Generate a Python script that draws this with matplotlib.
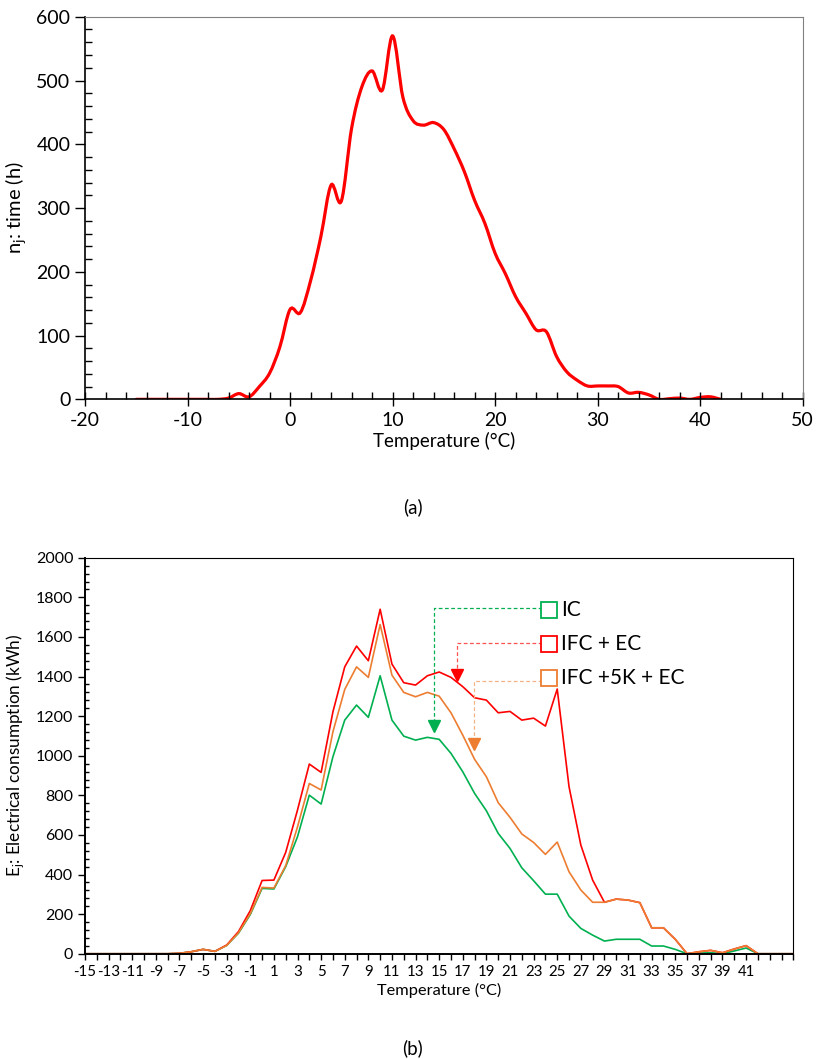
import numpy as np
import matplotlib
matplotlib.use("Agg")
import matplotlib.pyplot as plt
from matplotlib.path import Path
from matplotlib.patches import PathPatch
from matplotlib.ticker import MultipleLocator

plt.rcParams['font.family'] = ['Lato', 'DejaVu Sans']
plt.rcParams['axes.unicode_minus'] = False
plt.rcParams['mathtext.fontset'] = 'custom'
plt.rcParams['mathtext.rm'] = 'Lato'
plt.rcParams['mathtext.it'] = 'Lato:italic'

# (a) hours per temperature bin
temp_a = list(range(-15, 43))
hours = [0, 0, 0, 0, 0, 0, 0, 0, 0, 2, 9, 4, 20, 41, 82,
         141, 136, 186, 255, 336, 311, 425, 490, 515, 485, 570,
         474, 437, 430, 434, 423, 393, 357, 312, 276, 229, 197,
         161, 135, 109, 106, 67, 43, 30, 21, 21, 21, 20, 10, 11,
         7, 0, 1, 2, 0, 3, 4, 0]

# (b) electrical consumption per temperature bin
temp_b = list(range(-15, 46))
ic = [0, 0, 0, 0, 0, 0, 0, 0, 2, 10, 22, 12, 42, 104, 198,
      330, 327, 440, 591, 801, 756, 995, 1180, 1256, 1194, 1404,
      1180, 1099, 1079, 1093, 1083, 1012, 919, 810, 722, 608, 532,
      434, 369, 301, 301, 190, 128, 94, 64, 73, 73, 73, 39, 39,
      22, 0, 3, 5, 0, 14, 29, 0, 0, 0, 0]
ifc_ec = [0, 0, 0, 0, 0, 0, 0, 0, 2, 10, 22, 12, 44, 112, 218,
          370, 372, 512, 726, 958, 916, 1222, 1449, 1554, 1480, 1740,
          1463, 1369, 1357, 1404, 1423, 1396, 1349, 1293, 1281, 1217, 1224,
          1180, 1190, 1150, 1337, 844, 549, 372, 260, 276, 271, 258, 131, 131,
          73, 0, 10, 17, 5, 24, 41, 0, 0, 0, 0]
ifc_5k_ec = [0, 0, 0, 0, 0, 0, 0, 0, 2, 10, 22, 12, 42, 106, 202,
             335, 332, 445, 641, 860, 827, 1121, 1335, 1449, 1396, 1663,
             1407, 1320, 1298, 1320, 1301, 1217, 1104, 982, 894, 763, 689,
             605, 562, 502, 564, 414, 322, 260, 260, 276, 271, 258, 131, 131,
             73, 0, 10, 17, 5, 24, 41, 0, 0, 0, 0]

series_names = ['IC', 'IFC + EC', 'IFC +5K + EC']
GREEN, RED, ORANGE = '#00B050', '#FF0000', '#ED7D31'


def smooth_path(x, y):
    # Excel-style smoothed line: cubic Bezier through every point
    x = np.asarray(x, float)
    y = np.asarray(y, float)
    pts = np.column_stack([x, y])
    verts = [pts[0]]
    codes = [Path.MOVETO]
    n = len(pts)
    for i in range(n - 1):
        p0 = pts[i - 1] if i > 0 else pts[i]
        p1 = pts[i]
        p2 = pts[i + 1]
        p3 = pts[i + 2] if i + 2 < n else pts[i + 1]
        verts += [p1 + (p2 - p0) / 6, p2 - (p3 - p1) / 6, p2]
        codes += [Path.CURVE4] * 3
    return Path(verts, codes)


fig = plt.figure(figsize=(8.16, 10.59), dpi=100)

# ---------- (a) ----------
ax1 = fig.add_axes([0.1042, 0.6229, 0.8795, 0.3613])
ax1.add_patch(PathPatch(smooth_path(temp_a, hours), fill=False,
                        edgecolor=RED, lw=2.3, capstyle='round'))
ax1.set_xlim(-20, 50)
ax1.set_ylim(0, 600)
ax1.xaxis.set_major_locator(MultipleLocator(10))
ax1.xaxis.set_minor_locator(MultipleLocator(2))
ax1.yaxis.set_major_locator(MultipleLocator(100))
ax1.yaxis.set_minor_locator(MultipleLocator(20))
ax1.tick_params(axis='x', which='major', direction='inout', length=10,
                width=1, labelsize=14, pad=4)
ax1.tick_params(axis='x', which='minor', direction='in', length=5, width=1)
ax1.tick_params(axis='y', which='major', direction='out', length=7,
                width=1, labelsize=14)
ax1.tick_params(axis='y', which='minor', direction='in', length=5, width=1)
for side in ['top', 'right']:
    ax1.spines[side].set_color('#808080')
for side in ['left', 'bottom']:
    ax1.spines[side].set_color('black')
    ax1.spines[side].set_linewidth(1.2)
ax1.set_xlabel('Temperature (°C)', fontsize=13.5, labelpad=2)
ax1.set_ylabel(r'$\mathrm{n_j}$: time (h)', fontsize=14.5, labelpad=6)
fig.text(0.506, 0.521, '(a)', ha='center', va='center', fontsize=13.5)

# ---------- (b) ----------
ax2 = fig.add_axes([0.1042, 0.0994, 0.868, 0.3739])
ax2.plot(temp_b, ic, color=GREEN, lw=1.2, label=series_names[0])
ax2.plot(temp_b, ifc_ec, color=RED, lw=1.2, label=series_names[1])
ax2.plot(temp_b, ifc_5k_ec, color=ORANGE, lw=1.2, label=series_names[2])
ax2.set_xlim(-15, 45)
ax2.set_ylim(0, 2000)
ax2.set_xticks(range(-15, 46))
ax2.set_xticklabels([str(t) if (t % 2 != 0 and t <= 41) else ''
                     for t in range(-15, 46)])
ax2.yaxis.set_major_locator(MultipleLocator(200))
ax2.yaxis.set_minor_locator(MultipleLocator(40))
ax2.tick_params(axis='x', which='major', direction='out', length=4,
                width=1, labelsize=10.8, pad=4)
ax2.tick_params(axis='y', which='major', direction='out', length=5,
                width=1, labelsize=11.5)
ax2.tick_params(axis='y', which='minor', direction='in', length=3, width=1)
for side in ax2.spines.values():
    side.set_color('black')
ax2.spines['bottom'].set_linewidth(1.4)
ax2.spines['left'].set_linewidth(1.4)
ax2.set_xlabel('Temperature (°C)', fontsize=11.8, labelpad=3)
ax2.set_ylabel(r'$\mathrm{E_j}$: Electrical consumption (kWh)',
               fontsize=12.3, labelpad=6)

# legend boxes with dashed leader arrows
legend_rows = [(series_names[0], GREEN, '#00B050', 1735, 1744, 14.6, 1115),
               (series_names[1], RED, '#FF5050', 1563, 1568, 16.5, 1374),
               (series_names[2], ORANGE, '#F4B183', 1391, 1377, 17.95, 1025)]
for name, col, dash_col, ty, ly, ax_x, tip_y in legend_rows:
    ax2.plot([23.74, ax_x, ax_x], [ly, ly, tip_y + 40], color=dash_col,
             lw=0.9, ls=(0, (3, 2)))
    ax2.plot([ax_x], [tip_y + 35], marker='v', color=col, ms=8, mec=col)
    ax2.plot([24.3], [ty], marker='s', ms=11, mfc='white', mec=col, mew=1.3)
    ax2.text(25.35, ty, name, fontsize=15, va='center', ha='left')

fig.text(0.506, 0.01, '(b)', ha='center', va='center', fontsize=13.5)

fig.savefig('out.png', dpi=100)
